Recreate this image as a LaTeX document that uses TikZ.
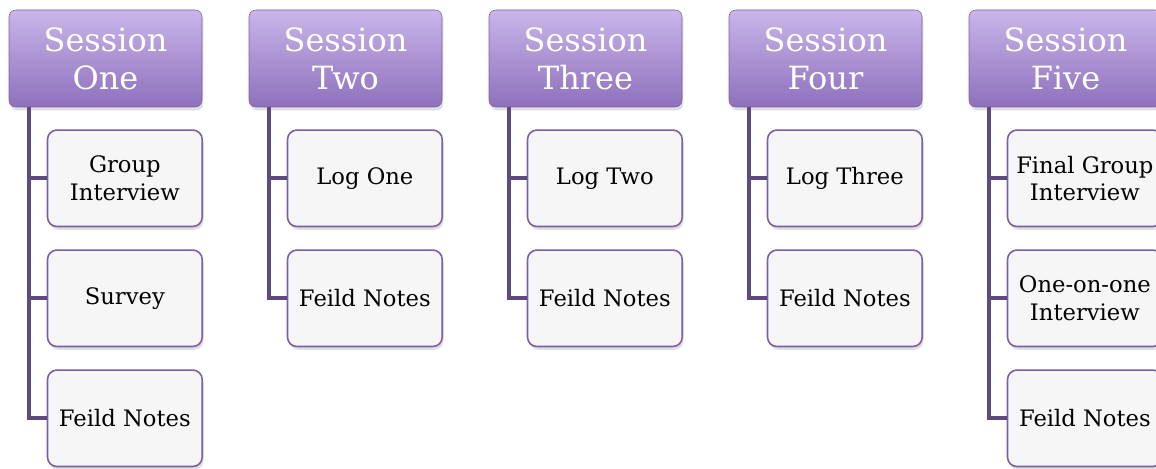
\documentclass[tikz,border=0pt]{standalone}
\usepackage{fontspec}
\setmainfont{DejaVu Serif}
\usepackage{tikz}
\usetikzlibrary{positioning,shadows,calc}
\definecolor{lilac}{HTML}{C9B6EA}
\definecolor{plum}{HTML}{8E70BC}
\definecolor{plumline}{HTML}{7A5FA8}
\definecolor{stem}{HTML}{5E4A7E}
\definecolor{paper}{HTML}{F6F6F6}
\tikzset{
  basic/.style   = {draw, align=center, rectangle,
                    drop shadow={shadow xshift=1pt, shadow yshift=-2.5pt, opacity=0.25}},
  session/.style = {basic, rounded corners=5pt, thin, draw=plumline,
                    top color=lilac, bottom color=plum, text=white,
                    minimum width=144.75pt, minimum height=72.75pt,
                    font=\fontsize{24}{28.5}\selectfont},
  entry/.style   = {basic, rounded corners=7pt, line width=1.2pt, draw=plumline,
                    fill=paper, minimum width=116pt, minimum height=72.3pt,
                    font=\fontsize{17}{20.5}\selectfont},
  link/.style    = {line width=3pt, draw=stem}
}

\begin{document}
\begin{tikzpicture}[x=0.75pt,y=0.75pt,node distance=16.5pt]
  \useasboundingbox (0,0) rectangle (1156,468);
  \clip (0,0) rectangle (1156,468);

  % session headers
  \node[session] (s1) at (105.5,409.5) {Session\\One};
  \node[session] (s2) at (345.5,409.5) {Session\\Two};
  \node[session] (s3) at (585.5,409.5) {Session\\Three};
  \node[session] (s4) at (825.5,409.5) {Session\\Four};
  \node[session] (s5) at (1065.5,409.5) {Session\\Five};

  % session one
  \node[entry, below=16.5pt of s1.south west, anchor=north west, xshift=28.5pt] (c11) {Group\\Interview};
  \node[entry, below=of c11] (c12) {Survey};
  \node[entry, below=of c12] (c13) {Feild Notes};
  % session two
  \node[entry, below=16.5pt of s2.south west, anchor=north west, xshift=28.5pt] (c21) {Log One};
  \node[entry, below=of c21] (c22) {Feild Notes};
  % session three
  \node[entry, below=16.5pt of s3.south west, anchor=north west, xshift=28.5pt] (c31) {Log Two};
  \node[entry, below=of c31] (c32) {Feild Notes};
  % session four
  \node[entry, below=16.5pt of s4.south west, anchor=north west, xshift=28.5pt] (c41) {Log Three};
  \node[entry, below=of c41] (c42) {Feild Notes};
  % session five
  \node[entry, below=16.5pt of s5.south west, anchor=north west, xshift=28.5pt] (c51) {Final Group\\Interview};
  \node[entry, below=of c51] (c52) {One-on-one\\Interview};
  \node[entry, below=of c52] (c53) {Feild Notes};

  % stems
  \foreach \i in {1,...,5}
    \coordinate (t\i) at ([xshift=15pt]s\i.south west);

  \draw[link] (t1) |- (c13.west);
  \draw[link] (t1 |- c11.west) -- (c11.west);
  \draw[link] (t1 |- c12.west) -- (c12.west);
  \draw[link] (t2) |- (c22.west);
  \draw[link] (t2 |- c21.west) -- (c21.west);
  \draw[link] (t3) |- (c32.west);
  \draw[link] (t3 |- c31.west) -- (c31.west);
  \draw[link] (t4) |- (c42.west);
  \draw[link] (t4 |- c41.west) -- (c41.west);
  \draw[link] (t5) |- (c53.west);
  \draw[link] (t5 |- c51.west) -- (c51.west);
  \draw[link] (t5 |- c52.west) -- (c52.west);
\end{tikzpicture}
\end{document}
